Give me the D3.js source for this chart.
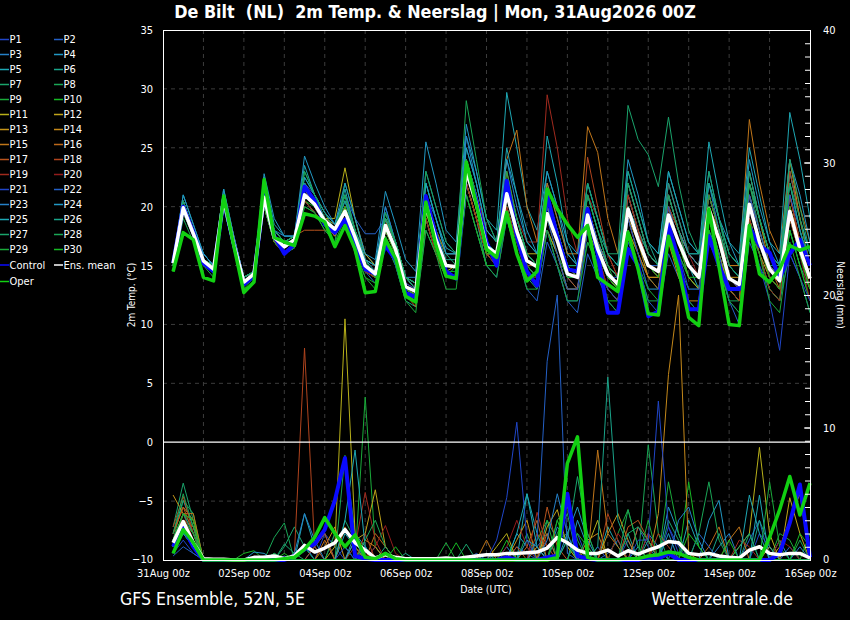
<!DOCTYPE html>
<html>
<head>
<meta charset="utf-8">
<title>De Bilt - GFS Ensemble</title>
<script src="https://d3js.org/d3.v7.min.js"></script>
<style>
  html, body { margin: 0; padding: 0; background: #000; }
  svg { display: block; }
  text { fill: #fff; font-family: "DejaVu Sans Condensed", "DejaVu Sans", sans-serif; }
</style>
</head>
<body>
<svg id="chart" width="850" height="620"></svg>
<script>
// forecast hours, 6-hourly from +6h to +384h
const hours = d3.range(6, 385, 6);

const xTickLabels = ["31Aug 00z", "02Sep 00z", "04Sep 00z", "06Sep 00z", "08Sep 00z",
  "10Sep 00z", "12Sep 00z", "14Sep 00z", "16Sep 00z"];

const memberNames = d3.range(1, 31).map(n => "P" + n);

// colors of the members, P21-P30 repeat P1-P10
const memberColors = [
  "#2046c8", "#2460c6", "#2580c8", "#2298c4", "#1ea8b4", "#1aa48a", "#1aa46c", "#1aa656", "#1aaa3a", "#16b824",
  "#b8b01a", "#c0a41a", "#c4941a", "#c4881a", "#c0761a", "#bc681a", "#b8541e", "#b0441e", "#a02a1e", "#921c1c",
  "#2046c8", "#2460c6", "#2580c8", "#2298c4", "#1ea8b4", "#1aa48a", "#1aa46c", "#1aa656", "#1aaa3a", "#16b824"
];

// 2m temperature (°C)
const meanTemp = [15.2,19.9,17.7,15.4, 14.7,20.6,16.8,13.6, 14.3,20.8,17.4,16.6, 17.2,21.0,20.2,18.8, 18.1,19.6,17.4,15.0, 14.3,18.4,16.4,13.2, 12.8,20.2,17.2,15.0, 14.9,23.0,20.2,16.6, 16.0,21.1,17.9,15.4, 14.9,19.4,17.1,14.3, 14.0,19.3,16.4,14.3, 13.4,19.8,17.2,15.0, 14.5,19.3,17.0,15.0, 14.0,19.8,17.2,13.9, 13.4,20.2,17.0,14.7, 13.7,19.6,16.4,13.9];
const operTemp = [14.5,17.8,17.2,14.0, 13.7,20.9,16.7,12.7, 13.6,22.3,17.4,17.0, 16.7,19.4,19.2,18.7, 16.6,18.4,16.4,12.7, 12.8,17.2,15.6,12.4, 11.9,20.4,16.7,14.1, 13.9,23.8,20.2,16.4, 15.7,19.5,16.0,13.7, 14.5,21.5,19.8,18.5, 17.4,18.4,14.0,13.4, 12.8,17.8,14.7,10.9, 10.8,17.5,14.7,10.6, 9.9,19.8,14.9,10.0, 9.9,18.4,14.3,13.6, 14.7,16.7,16.3,16.6];
const controlTemp = [15.2,20.0,17.8,15.2, 14.5,20.5,16.8,13.4, 14.1,21.0,17.5,16.0, 16.8,21.7,20.5,18.5, 17.8,18.9,16.8,14.7, 14.3,16.7,15.5,12.7, 12.3,20.9,17.5,14.5, 13.9,23.3,20.5,17.0, 15.0,22.2,17.5,14.5, 13.3,21.0,17.5,14.7, 14.5,19.8,16.0,11.0, 11.0,16.4,15.0,10.7, 11.1,18.5,15.5,11.3, 11.3,17.5,15.0,13.0, 13.0,18.3,16.7,16.1, 13.9,16.0,17.2,15.0];

const memberTemp = [
  [15,20,18,15.5, 14.5,21,17,13.5, 14,21,17.5,17, 17,21.5,20,19, 18,20,17,15, 14,19,17,14, 13,21,18,15, 15,24,21,17, 16,22,18,15, 14,20,17,14, 13,20,17,14, 13,21,18,15, 14,20,17,15, 14,21,18,14, 13,21,17,14, 13,20,16,13],
  [15,19.5,17.5,15, 14.5,20.5,16.5,13.5, 14,20,17,16, 16.5,20.5,19.5,18.5, 18,19,17,14.5, 13.5,18,16,12.5, 12,19,16,14, 14,22,19,15, 14,19,16,13, 12,17,15,12, 11,16,14,12, 11,17,15,12, 11,16,14,12, 11,17,15,12, 10,17,15,13, 12,16,14,11],
  [15.5,20.5,18,16, 15,21,17,14, 14.5,21.5,18,17, 17.5,22.5,21,19.5, 18.5,21,18,16, 15,20,17,14, 14,22,19,16, 16,25,22,18, 17,24,20,17, 16,22,19,16, 15,21,18,15, 14,22,19,16, 15,22,19,16, 15,21,18,15, 14,22,19,16, 15,23,19,16],
  [15,20,18,15.5, 14.5,20.5,17,13.5, 14.5,21,18,17, 17,21,20,18.5, 17.5,19,17,14.5, 14,18,16,13, 12.5,19,16,14, 14,22,19,16, 15,20,17,15, 15,20,18,15, 14,20,17,15, 14,21,18,16, 15,20,18,16, 16,22,19,17, 15,21,18,15, 14,21,17,15],
  [15.5,21,18.5,16, 15,21.5,17.5,14, 14.5,22.5,18.5,17.5, 17.5,23.5,21,19, 18,21.5,18,15.5, 14.5,19,17,14, 13.5,22,19,16.5, 16,26,23,19, 18,29.7,25,20, 18,23,20,16, 15,20,17,14, 13,20,18,15, 14,21,18,15, 13,19,16,13, 12,20,17,14, 14,23,19,16],
  [15,19.5,17.5,15, 14.5,20,16.5,13.5, 14,20.5,17,16.5, 17,20.5,19.5,18.5, 17.5,19,17,15, 14,17,15,12, 11.5,18,16,14, 14,21,18,15, 15,19,16,14, 13,18,16,13, 13,18,15,13, 12,19,16,14, 13,18,16,14, 13,18,16,13, 12,19,16,13, 12,18,15,13],
  [15,20,18,15.5, 15,21,17,14, 14.5,21,17.5,17, 17.5,21.5,20.5,19, 18.5,20.5,18,15.5, 15,19,17,14, 13.5,21,18,16, 15,24,21,17, 16,22,19,16, 15,20,18,15, 15,21,18,15, 14,21,18,16, 15,21,18,16, 15,22,19,15, 14,22,18,15, 15,22,18,15],
  [14.5,19,17,15, 14,20,16.5,13, 13.5,20,17,16, 16.5,20,19.5,18, 17,22,19,15.5, 14,17.5,15.5,12.5, 12,19,16,14, 15,22,19,15, 15,20,16,14, 14,18,15,13, 13,17,15,13, 12,18,15,12, 12,17,15,13, 13,18,15,12, 12,19,16,13, 12,18,15,12],
  [15,20,17.5,15, 14.5,21,17,13.5, 14,21.5,17.5,16.5, 17,21,20,19, 18,20,17,14.5, 14,18,16,13, 12.5,20,17,15, 15,23,20,16, 16,21,18,15, 15,19,16,14, 14,20,17,15, 13,20,17,15, 14,19,17,15, 14,20,17,14, 13,20,17,14, 13,19,16,13],
  [14.5,19.5,17.5,15, 14.5,20,16.5,13, 14,20,17,16.5, 17,20.5,20,18.5, 18,19,16.5,14, 13.5,17.5,15.5,12.5, 12,19,16,14, 14,21,18,15, 15,20,17,14, 14,18,16,13, 13,18,15,12, 12,18,16,13, 13,18,16,14, 13,19,16,13, 12,18,16,13, 12,18,15,12],
  [15,20,18,15.5, 15,21,17,14, 14.5,21,18,17, 17.5,21.5,20,19, 19,23.3,19,16, 15,19,17,14, 13,20,17,15, 15,22,19,16, 16,21,18,16, 16,21,18,15, 15,20,17,15, 14,20,17,15, 15,20,18,16, 15,21,18,15, 15,23,19,16, 14,21,17,14],
  [15,20,17.5,15, 14.5,20.5,16.5,13.5, 14,20.5,17,16.5, 17,20.5,19.5,18.5, 18,20,17.5,15, 14,18,16,13, 12.5,19.5,17,14.5, 15,22,19,16, 15,20,17,15, 14,18,16,13, 13,18,16,14, 13,19,17,14, 14,19,17,14, 13,19,17,13, 12,19,16,14, 13,19,16,13],
  [15,20,18,15.5, 14.5,21,17,13.5, 14,20.5,17,16, 17,22,20,18.5, 17.5,20,17,14.5, 14,19,16,12.5, 12,20,17,14, 14,23,20,16, 16,23,19,16, 15,20,17,14, 14,19,17,15, 14,20,17,15, 15,19,17,15, 14,21,18,14, 14,22,19,15, 14,24,19,15],
  [15,20,17.5,15, 14.5,20,16.5,13.5, 14,20,17,16.5, 17,21,20,19, 18,19.5,17,15, 14.5,18,16,13, 13,20,17,15, 15,23,20,17, 16,22,18,16, 15,20,17,15, 14,19,16,14, 13,18,16,14, 14,17,14,12, 12,19,16,13, 13,20,17,15, 14,20,17,14],
  [15.5,20.5,18,15.5, 15,21,17.5,14, 14.5,21.5,18,17, 17.5,22,20.5,19, 18.5,21,18,15.5, 15,19,17,14, 13.5,21,18,16, 16,24,21,18, 17,24,26.5,20, 17,22,19,16, 16,26.8,24.6,19, 16,22,19,16, 15,21,18,16, 15,21,18,15, 15,27.4,22,18, 16,24,20,17],
  [15,19.5,17.5,15, 14.5,20.5,16.5,13.5, 14,20.5,17,16, 16.5,21,20,18.5, 17.5,19.5,17,14.5, 14,18,16,12.5, 11.5,19,16,14, 14,22,19,16, 15,21,18,15, 14,19,17,14, 13,19,16,13, 12,19,16,14, 13,20,17,15, 14,20,18,14, 13,21,18,15, 13,20,17,14],
  [15,20,18,15.5, 14.5,21,17,14, 14.5,21,17.5,17, 17.5,18,18,18, 18,20,17,15, 14.5,18.5,16.5,13, 12.5,20,17,15, 15,23,20,16, 16,21,18,15, 15,20,17,15, 14,20,17,15, 14,20,17,15, 15,20,17,15, 14,20,17,14, 13,20,17,14, 14,21,17,14],
  [15,20,17.5,15, 14.5,20.5,16.5,13.5, 14,20.5,17,16.5, 17,21,20,18.5, 18,19.5,17,15, 14,18,16,13, 12.5,20,17,15, 15,24,21,17, 16,22,19,16, 15,21,18,15, 14,24.2,20,16, 14,21,18,15, 14,19,17,15, 14,19,17,14, 13,20,17,14, 13,23,19,15],
  [15,20,17.5,15.5, 14.5,20.5,17,13.5, 14,21,17.5,16.5, 17,21,20,18.5, 18,19.5,17,15, 14.5,18.5,16.5,13.5, 13,20,17,15, 15,23,21,18, 17,22,19,17, 17,29.5,25,19, 16,21,19,16, 14,21,18,15, 14,20,18,15, 14,20,17,13, 12,19,16,13, 12,21,17,13],
  [15,19.5,17.5,15, 14.5,20.5,16.5,13.5, 14,20.5,17,16, 17,20.5,19.5,18.5, 18,19.5,17,14.5, 14,18,16,12.5, 12,19,16,14, 14,22,19,16, 15,20,17,14, 14,19,16,13, 13,19,16,13, 12,20,17,15, 15,22,19,16, 14,21,18,14, 13,20,17,14, 13,19,16,12],
  [15,20,17.5,15, 14.5,20.5,17,13.5, 14,20.5,17.5,16.5, 17,21,20,19, 18,19.5,17,15, 14.5,18.5,16.5,13.5, 13,20,17,15, 15,23,20,17, 16,21,18,15, 14,18,15,12, 12,18,15,13, 12,19,16,13, 13,18,16,13, 13,19,16,12, 11,18,15,12, 7.8,16,14,12],
  [15,20,17.5,15, 14.5,20.5,17,13.5, 14,21,18,17, 17.5,22,21,19.5, 18.5,21,19,17.7, 17.7,19,17,14, 13,21,19,16, 16,23,20,17, 16,21,18,16, 15,19,16,13, 13,19,16,14, 14,20,17,15, 15,20,17,15, 14,20,17,14, 13,21,18,15, 14,21,18,15],
  [15.5,20.5,18,16, 15,21,17.5,14, 14.5,22,18,17.5, 17.5,22,20.5,19, 18,20.5,18,15.5, 15,20,17,14, 13.5,23,20,17, 16,26,22,18, 17,22,19,16, 15,20,17,14, 14,20,17,15, 14,22,19,16, 15,21,18,16, 15,22,18,15, 14,23,19,16, 15,22,18,15],
  [15.5,21,18.5,16, 15,21.5,17.5,14, 14.5,22.8,19,17.5, 17.5,24.3,22,20, 18.5,22,19,16, 15.5,21.3,18.5,15.5, 14.5,25.5,22,18, 17,27,23,19, 17,24,21,18, 16,23,20,17, 16,22,19,16, 15,24,21,17, 16,23,20,17, 16,23,19,16, 15,24,20,17, 15,24,21,17],
  [15.5,20.5,18,15.5, 15,21,17,14, 14.5,21.5,18,17, 17.5,22.5,21,19.5, 18.5,21,18,15.5, 15,19.5,17,14, 13.5,22,19,16, 16,25,22,18, 17,25,21,17, 16,26,22,17, 15,22,19,16, 15,23,20,17, 16,23,20,17, 16,25.5,21,17, 16,25,21,17, 16,28,24,19],
  [15,20,18,15.5, 15,21,17,14, 14.5,21,18,17, 17.5,22,20.5,19, 18,20.5,17.5,15, 14.5,19,17,14, 13,21,18,15.5, 15.5,24,21,17, 16,22,19,16, 15,21,18,15, 15,21,18,16, 15,23,20,17, 15,22,19,16, 16,22,19,16, 15,22,19,16, 15,22,18,15],
  [15,20,17.5,15, 14.5,20.5,17,13.5, 14,21,17.5,17, 17,23,21,19.5, 18,21,18,15, 14,19,17,14, 13,21,18,15, 15,24,21,17, 16,22,19,16, 15,21,18,15, 15,22,19,16, 16,28.6,25.7,24.4, 21.7,27.6,22,18, 16,23,19,16, 15,23,19,16, 15,24,20,16],
  [15,20.5,18,15.5, 15,21,17,14, 14.5,21.5,18,17, 17.5,23,21,19, 18,21,18,15, 14.5,19.5,17,14, 13.5,23,20,17, 16,29,24,19, 17,23,19,16, 15,21,18,15, 14,21,18,15, 14,22,19,16, 15,21,18,15, 14,21,18,15, 14,22,19,16, 14,22,19,15],
  [14.5,19.5,17.5,15, 14.5,20,16.5,13, 13.5,20,17,16, 16.5,20,19.5,18, 17,19,16,14, 13,17,15,12, 11,18,16,13, 13,21,18,15, 14,19,16,13, 13,18,15,12, 12,17,15,12, 11,18,15,13, 12,17,15,12, 11,18,15,12, 11,18,16,12, 11,17,14,11],
  [15,20,18,15.5, 14.5,21,17,13.5, 14,21,17.5,16.5, 17,21.5,20.5,19, 18,20,17.5,15, 14,18,16,13, 12.5,20,17,14.5, 14.5,23,20,16, 16,21,18,15, 14,19,17,14, 14,19,16,14, 13,20,17,15, 14,19,17,14, 14,20,17,13, 13,20,17,14, 13,20,16,13]
];

// precipitation (mm per 6h)
const meanPrecip = [1.3,2.9,1.3,0.1,0.05,0.05,0,0, 0.2,0.2,0.3,0.1,0.3,1.1,0.6,0.9, 1.3,2.3,1.3,0.75,0.15,0.4,0.2,0.1, 0.1,0.1,0.1,0.15,0.1,0.2,0.3,0.4, 0.4,0.5,0.5,0.55,0.6,0.9,1.7,1.3, 0.75,0.5,0.5,0.75,0.3,0.7,0.45,0.75, 1.0,1.4,1.3,0.5,0.4,0.5,0.3,0.2, 0.15,0.75,1.0,0.5,0.4,0.5,0.5,0.15];
const operPrecip = [0.5,2.3,1.3,0,0,0,0,0, 0,0,0,0.1,0.2,0.8,1.7,3.2, 2.0,1.0,1.9,0.2,0.1,0.5,0.1,0, 0,0,0,0,0,0,0,0, 0,0,0,0,0,0,0.2,7.3, 9.3,0.2,0,0,0,0.1,0.1,0.3, 0.4,0.6,0.5,0.2,0,0,0,0, 0,0,0,1.7,3.8,6.3,3.4,5.8];
const controlPrecip = [1.0,2.5,1.0,0,0,0,0,0, 0,0,0,0,0.3,0.8,1.2,2.3, 4.5,7.7,0.3,0.1,0,0,0,0, 0,0,0,0,0,0,0,0, 0,0.2,0,0,0,0.2,0.3,5.0, 0.3,0.1,0,0,0,0,0,0.2, 0.1,0.5,0,0,0,0,0,0, 0,0,0,0,0.5,2.8,5.7,0.2];

const memberPrecip = [
  [1,3,1.5,0,0,0,0,0, 0,0,0,0,0.5,1.2,0,2, 1,0,0,0,0,0,0,0, 0,0,0,0,0,0,0,0, 0,0,1,0.5,0,0,0,0, 2,0,1,0,0,1.5,0,0, 0,2.5,1,0,0,0,0,0, 0,0,2,1,0,0,0,0],
  [0.5,2,1,0,0,0,0,0, 0,0,0,0.3,0,0,1,2, 0,0,0,1,0,0,0,0, 0,0,0,0,0,0,0,0, 0.5,0,0,0,1,2,0,0, 0,0,0,0.5,1.5,0,2.5,1, 0,0,0,0,0,0,0,0, 0,1.5,3,0,0,1,0,0],
  [1.5,3.5,2,0,0,0,0,0, 0,0.3,0,0,0,0,0,0, 2,1,0,0,1,0,0,0, 0,0,0,0,0,0,0,0, 0,1,0,0,0,0,2.5,1.5, 0,0,0,0,0,0,0,2, 1,0,0,0,0,0,1,2, 0,0,0,0,0,0,0,0],
  [1,2.5,1,0,0,0,0,0, 0,0,0,0,0,1,0,0, 0,0,2,1,0,0,0,0, 0,0,0,0,0,0,0,0, 0,0,2,1,0,0,0,0, 3,1,0,0,0,0,1,0, 0,4,2,0,0,0,0,0, 0,0,0,0,1.5,0,0,0],
  [2,4.5,2.5,0,0,0,0,0, 0,0,0,0,0,3.5,1,0, 0,2,1,0,0,0,0,0, 0,0,0,0,0,0,0,0, 0,0,0,5,2,0,0,0, 0,0,0,2.5,1,0,0,0, 0,0,0,3,1,0,0,0, 0,0,4.9,0,0,0,0,0],
  [1,2.5,1.5,0,0,0,0,0, 0,0,0.5,0,0,0,0,0, 0,0,0,0,0,1,0,0, 0,0,0,0,0,0,0,0.5, 0,0,0,0,0,3,1.5,2, 0,0,0,0,0,2,0,1.5, 0,0,0,0,0,0,2,0, 0,0,0,1,0,0,0,0],
  [2.5,5.8,3,0,0,0,0,0, 0,0,0,1,2.5,1,0,0, 0,3,1.5,0,0,0,0,0, 0,0,0,0,0,0,0,0, 0,0,0,0,0,0,0,1.5, 6.3,2,0,0,0,0,0,0, 0,3,1.5,0,0,0,0,0, 0,2,0,0,0,0,0,0],
  [1.5,4.5,3.5,0,0,0,0,0, 0,0,1.7,2.8,0,0,0,0, 0,7.9,2,0,0,0,0,0, 0,0,0,0,0,0,0,0, 0,0,0,2,0,0,0,5, 1.5,0,0,0,0,0,0,8.7, 2,0,0,0,0,0,0,0, 0,0,0,0,0,0,1.5,0],
  [1,3.5,2.5,0,0,0,0,0, 0,0,0,0,0,0,0,0, 2,1,0,12.3,1,0,0,0, 0,0,0,0,0,0,0,0, 0,0,0,0,1.5,3,0,0, 0,0,0,0,2,3.8,1,0, 0,0,0,0,0,0,0,0, 0,0,0,0,2,1.5,0,0],
  [0.5,2,1,0,0,0,0,0.5, 0.7,0,0,0,0,0,0,0, 0,0,1,0,0,0,0,0, 0,0,0,0,1.3,0,0,0, 0,0,0,0,0,0,3,1, 0,0,0,0,0,0,0,0, 0,0,0,5.9,1,0,0,0, 0,0,0,0,0,0,0,2],
  [1,2.5,1.5,0,0,0,0,0, 0,0,0,0,0,0,0,0, 1,18.2,2,0,0,0,0,0, 0,0,0,0,0,0,0,0, 1,2,0,0,0,0,0,0, 0,1,3,0,0,0,0,0, 0,0,0,0,0,0,0,0, 1,2,8.5,2,0,0,0,0],
  [1.5,3,2,0,0,0,0,0, 0,0,0,0,0,0,0,0, 0,0,1.5,2,5.3,1,0,0, 0,0,0,0,0,0,0,0, 0,0,0,0,0,2.5,3.8,1, 0,0,0,0,0,0,0,0, 0,0,0,0,0,0,0,0, 0,0,0,0,0,4.7,2,0],
  [4.9,3.5,3,0,0,0,0,0, 0,0,0,0,0,0,0,1, 2.5,0,0,0,0,0,0,0, 0,0,0,0,0,0,0,0, 0,0,1.5,3,0,0,0,0, 0,0,0,2,3.5,1.5,0,0, 0,0,0,0,0,0,0,0, 0,0,0,0,1,3,5,0],
  [2,4,3,0,0,0,0,0, 0,0,0,0,0,0,0,0, 0,0,0,1.5,1,0,0,0, 0,0,0,0,0,0,0,0, 0,0,0,0,1,0,0,0, 0,1.5,2,0,0,0,0,0, 3.5,14,20,0.5,0,0,0,0, 0,0,0,1,0,0,0,0],
  [1.5,3.5,3.5,0,0,0,0,0, 0,0,0,0,0,0,0,0, 0,2.5,1,0,0,0,0,0, 0,0,0,0,0,0,0,1.5, 0,0,0,0,0,2,0,0, 0,0,8.3,2,1,0,0,0, 0,0,0,0,0,0,0,1.5, 2.5,0,0,0,0,0,0,0],
  [1,3,2.5,0,0,0,0,0, 0,0,0,0,0,0,0,1.5, 0,0,0,0,2,1,0,0, 0,0,0,0,0,0,0,0, 0,0,0,1,3,0,0,0, 0,0,0,0,0,0,2.5,1.5, 0,0,0,0,0,1,2.5,0, 0,0,0,0,0,0,0,0],
  [2,4,2,0,0,0,0,0, 0,0,0,0,0,0,1,2, 0,0,0,0,0,0,0,0, 0,0,0,0,0,0,0,0, 0,0,1,0,0,4,1,0, 0,0,0,0,0,2.5,3,1.5, 0,0,0,0,0,0,0,0, 0,0,0,0,0,0,0,0],
  [2.5,4.8,2,0,0,0,0,0, 0,0,0,0,0.5,16,1,0, 0,0,0,2,0,0,0,0, 0,0,0,0,0,0,0,0, 0,0,0,0,2,1,0,0, 0,0,0,3.5,1.5,0,0,0, 2,1,0,0,0,0,0,0, 0,0,0,0,0,0,0,0],
  [1,3.5,1.5,0,0,0,0,0, 0,0,0,0,0,0,0,0, 0,0,1,5.1,1.5,0,0,0, 0,0,0,0,0,0,0,0, 0,0,0,0,3.6,1,0,0, 0,0,0,0,0,0,0,2, 0,0,0,0,0,0,0,0, 1.5,1,0,0,0,0,0,0],
  [1,2.5,1,0,0,0,0,0, 0,0,0,0,0,0,0,0, 0,0,0,0,1,2.6,0.5,0, 0,0,0,0,0,0,0,0, 0,1,3,1,0,0,0,0, 0,0,0,0,2,1,0,0, 0,0,0,0,0,0,0,0, 0,0,0,0,1.5,1,0,0],
  [0.5,1.5,0.5,0,0,0,0,0, 0,0,0,0,0,0,0,0, 0,1,0,0,0,0,0,0, 0,0,0,0,0,0,0,0, 1.5,4.7,10.4,1.5,0,0,0,0, 0,0,0,0,0,0,1.5,1.5, 12,2.5,0.5,0,0,0,0,0, 0,0,0,0,0,0,0,0],
  [0.3,1,0.5,0,0,0,0,0, 0,0,0,0,0,0,0,0, 0,0,0,0,0,0,0,0, 0,0,0,0,0,0,0.5,0, 0,0,0,0,1.5,15,20,0.5, 0,0,0,0,0,0,0,0, 0,0,0,0,2,1,0,0, 0,0,0,0,0,0,0,0],
  [1,2,1,0,0,0,0,0, 0,0,0,0,0.5,3.5,1.5,0, 0,0,0,0,0,0,0,0, 0,0,0,0,0,0,0,0, 0,0,0,0,0,1.5,5,2, 0,0,0,0,0,0,0,0, 0,0,3,4,1.5,0,0,0, 0,0,0,0,0,0,1,0],
  [1.5,3,1.5,0,0,0,0,0, 0.6,0.5,0,0,0,0,0,0, 0,0,1.5,0,0,0,0,0, 0,0,0,0,0,0,0,0, 0,0,0,1.5,1,0,0,2, 4,1.5,0,0,0,0,0,0, 0,2,0,0,0,3,4.5,0, 0,0,0,0,0,0,0,0],
  [1,2.5,1,0,0,0,0,0, 0,0,0,0,0,0,0,0, 0,3,8.3,1,0,0,0,0, 0,0,0,0,0,0,0,0, 0,0,2,5,1,0,0,0, 0,0,0,0,0,0,0,0, 0,0,0,0,0,0,0,0, 0,4.9,2,0,0,0,0,0],
  [1,2,1.5,0,0,0,0,0, 0,0,0.5,0,0,0,0,0, 0,0,0,0,0,0,0,0.5, 0,0,0,0,0,0,0,0, 0,0,0,0,0,0,0,1.5, 0,0,1,13.8,3,1,0,0, 0,0,0,0,0,0,0,0, 0,0,3,1,0,0,0,0],
  [1.5,3.5,2,0,0,0,0,0, 0,0,0,1.2,0.5,0,0,0, 0,0,0,0,0,0,0,0, 0,0,0,0,0,1.2,0,0, 0,0,0,0,0,0,2,3.5, 0,0,0,0,0,2,2.5,1.5, 0,0,0,0,0,0,0,0, 1,2,0,0,0,0,0,0],
  [2,5,2.5,0,0,0,0,0, 0,0,0,0,0,0,0,0, 0,0,0,1.5,3,1,0,0, 0,0,0,0,0,0,0,0, 0,0,0,0,0,0,0,0, 0,2,0,0,0,3.8,1,0, 0,0,0,0,2,5.9,1.5,0, 0,0,0,0,0,0,0,0],
  [1,3,2,0,0,0,0,0, 0,0,0.5,0,0,0,0,0, 0,0,0,0,0,0,0,0, 0,0,0,1.3,0,0,0,0, 0,0,0,0,0,0,3,4, 1,0,0,0,0,0,0,3, 0,5.9,2,0,0,0,0,0, 0,0,0,5.9,1,0,0,0],
  [1.5,3.5,3,0,0,0,0,0, 0,0,0,0.5,0,0,0,0, 0,0,0,0,0,0,1,0, 0,0,0,0,0,0,0,0, 0,1.5,0,0,0,0,0,0, 2,1,0,0,0,0,0,0, 0,0,0,2,1,0,0,1.5, 0,0,0,0,0,0,2,1]
];

const svg = d3.select("#chart");
svg.append("rect").attr("width", 850).attr("height", 620).attr("fill", "#000");

const plot = { left: 163, right: 810, top: 30, bottom: 560 };
const x = d3.scaleLinear().domain([0, 384]).range([plot.left, plot.right]);
const yT = d3.scaleLinear().domain([-10, 35]).range([plot.bottom, plot.top]);
const yP = d3.scaleLinear().domain([0, 40]).range([plot.bottom, plot.top]);

// grid
const grid = svg.append("g");
grid.selectAll("line.h")
  .data(d3.range(-5, 35, 5).filter(v => v !== 0))
  .join("line")
  .attr("x1", plot.left).attr("x2", plot.right)
  .attr("y1", d => yT(d)).attr("y2", d => yT(d))
  .attr("stroke", "#3c3c3c").attr("stroke-dasharray", "4,4");
grid.selectAll("line.v")
  .data(d3.range(24, 384, 24))
  .join("line")
  .attr("x1", d => x(d)).attr("x2", d => x(d))
  .attr("y1", plot.top).attr("y2", plot.bottom)
  .attr("stroke", "#3c3c3c").attr("stroke-dasharray", "4,4");

const tempLine = d3.line().x((d, i) => x(hours[i])).y(d => yT(d));
const precLine = d3.line().x((d, i) => x(hours[i])).y(d => yP(d));

// members
const members = svg.append("g").attr("fill", "none").attr("stroke-width", 1);
memberTemp.forEach((s, k) => {
  members.append("path").attr("d", tempLine(s)).attr("stroke", memberColors[k]);
});
memberPrecip.forEach((s, k) => {
  members.append("path").attr("d", precLine(s)).attr("stroke", memberColors[k]);
});

// zero line
svg.append("line")
  .attr("x1", plot.left).attr("x2", plot.right)
  .attr("y1", yT(0)).attr("y2", yT(0))
  .attr("stroke", "#fff").attr("stroke-width", 1.2);

// control, mean, oper
const thick = svg.append("g").attr("fill", "none").attr("stroke-linejoin", "round");
thick.append("path").attr("d", tempLine(controlTemp)).attr("stroke", "#0a0aff").attr("stroke-width", 4);
thick.append("path").attr("d", precLine(controlPrecip)).attr("stroke", "#0a0aff").attr("stroke-width", 4);
thick.append("path").attr("d", tempLine(meanTemp)).attr("stroke", "#fff").attr("stroke-width", 3.5);
thick.append("path").attr("d", precLine(meanPrecip)).attr("stroke", "#fff").attr("stroke-width", 3.5);
thick.append("path").attr("d", tempLine(operTemp)).attr("stroke", "#12d012").attr("stroke-width", 3.5);
thick.append("path").attr("d", precLine(operPrecip)).attr("stroke", "#12d012").attr("stroke-width", 3.5);

// frame
svg.append("rect")
  .attr("x", plot.left + 0.5).attr("y", plot.top + 0.5)
  .attr("width", plot.right - plot.left).attr("height", plot.bottom - plot.top)
  .attr("fill", "none").attr("stroke", "#fff");

// axes
const leftAxis = svg.append("g")
  .attr("transform", `translate(${plot.left},0)`)
  .call(d3.axisLeft(yT).tickValues(d3.range(-10, 36, 5)).tickSize(0).tickPadding(10));
const rightMinor = svg.append("g")
  .attr("transform", `translate(${plot.right},0)`)
  .call(d3.axisRight(yP).tickValues(d3.range(0, 41, 1)).tickSize(-5).tickFormat(""));
const rightAxis = svg.append("g")
  .attr("transform", `translate(${plot.right},0)`)
  .call(d3.axisRight(yP).tickValues([0, 10, 20, 30, 40]).tickSize(-6).tickPadding(13));
const bottomAxis = svg.append("g")
  .attr("transform", `translate(0,${plot.bottom})`)
  .call(d3.axisBottom(x).tickValues(d3.range(0, 385, 48)).tickSize(0).tickPadding(9)
    .tickFormat((d, i) => xTickLabels[i]));

[leftAxis, rightMinor, rightAxis, bottomAxis].forEach(g => {
  g.select(".domain").remove();
  g.selectAll("line").attr("stroke", "#fff");
  g.selectAll("text").attr("font-size", 11).style("font-family", null);
});
// keep the lowest y labels clear of the date labels
leftAxis.selectAll(".tick text").filter(d => d === -10).attr("dy", "0.2em");
rightAxis.selectAll(".tick text").filter(d => d === 0).attr("dy", "0.2em");

// titles
svg.append("text")
  .attr("x", 435).attr("y", 18)
  .attr("text-anchor", "middle")
  .attr("font-size", 17.8).attr("font-weight", "bold")
  .text("De Bilt  (NL)  2m Temp. & Neerslag | Mon, 31Aug2026 00Z")
  .style("white-space", "pre");

svg.append("text")
  .attr("transform", "translate(135,295) rotate(-90)")
  .attr("text-anchor", "middle").attr("font-size", 10)
  .text("2m Temp. (°C)");
svg.append("text")
  .attr("transform", "translate(837,295) rotate(90)")
  .attr("text-anchor", "middle").attr("font-size", 10)
  .text("Neerslag (mm)");
svg.append("text")
  .attr("x", 486).attr("y", 593)
  .attr("text-anchor", "middle").attr("font-size", 10.5)
  .text("Date (UTC)");
svg.append("text")
  .attr("x", 120).attr("y", 605)
  .attr("font-size", 17.5)
  .text("GFS Ensemble, 52N, 5E");
svg.append("text")
  .attr("x", 793).attr("y", 605)
  .attr("text-anchor", "end").attr("font-size", 17.5)
  .text("Wetterzentrale.de");

// legend
const legendItems = memberNames.map((n, k) => ({ name: n, color: memberColors[k] }))
  .concat([{ name: "Control", color: "#0a0aff" }, { name: "Ens. mean", color: "#fff" }, { name: "Oper", color: "#12d012" }]);
const rowY = k => (k < 30 ? 39.5 + Math.floor(k / 2) * 15 : k < 32 ? 265 : 281.5);
const legend = svg.append("g");
const item = legend.selectAll("g")
  .data(legendItems)
  .join("g")
  .attr("transform", (d, k) => `translate(${k % 2 === 0 ? 0 : 54},${rowY(k)})`);
item.append("line")
  .attr("x1", 0).attr("x2", 9).attr("y1", 0).attr("y2", 0)
  .attr("stroke", d => d.color).attr("stroke-width", 1.5);
item.append("text")
  .attr("x", 9.5).attr("dy", "0.35em").attr("font-size", 11)
  .text(d => d.name);
</script>
</body>
</html>
